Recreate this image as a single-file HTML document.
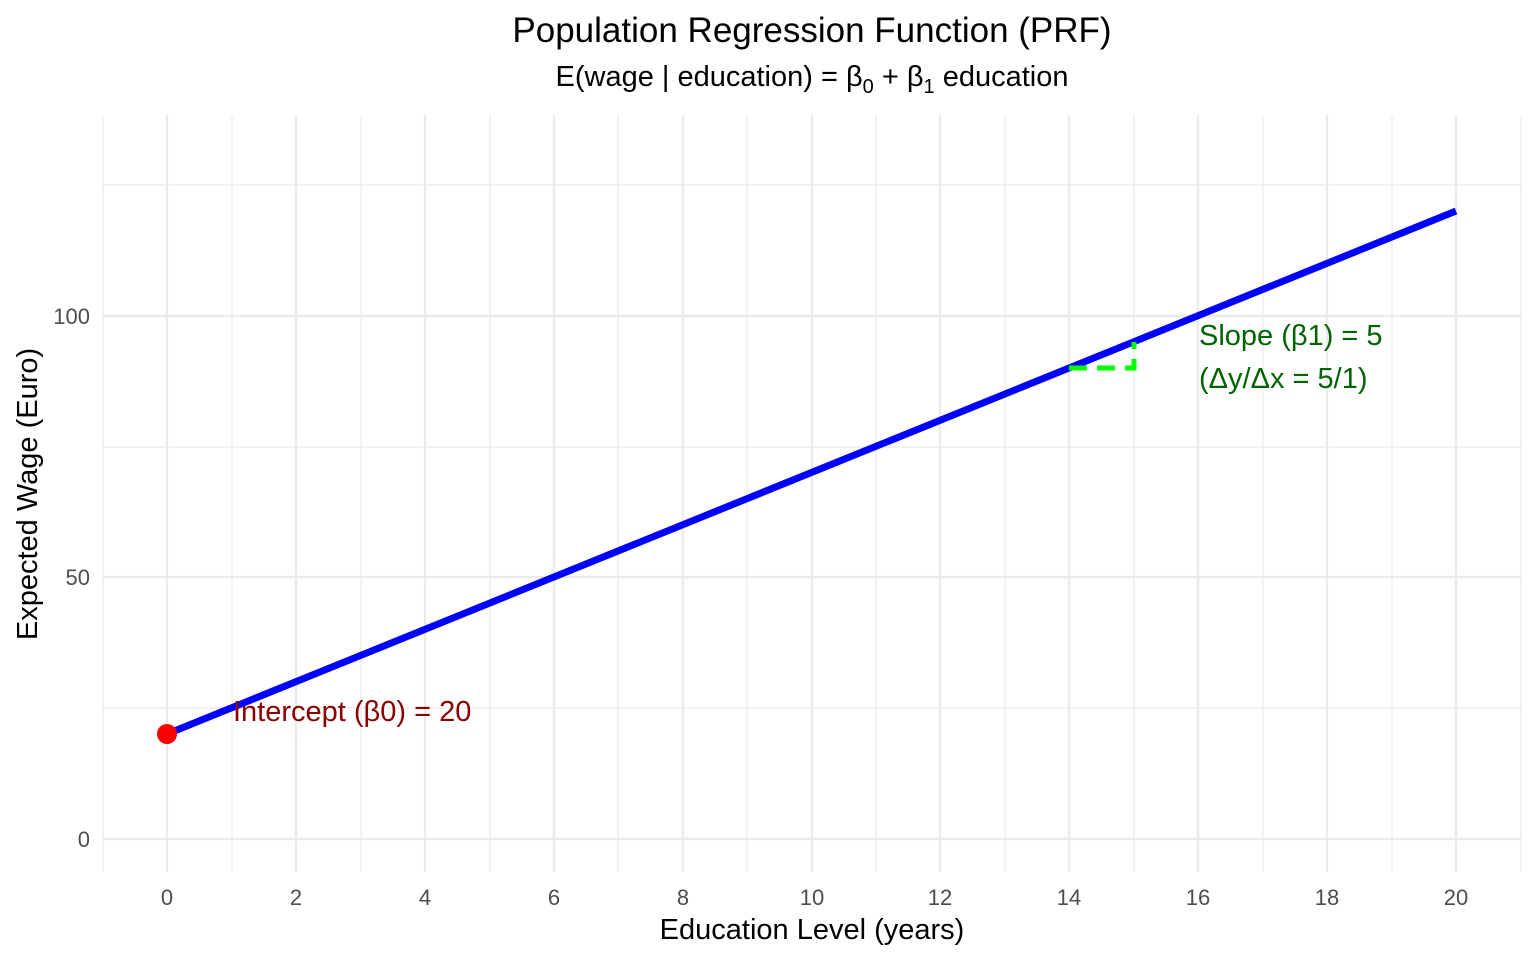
<!DOCTYPE html>
<html><head><meta charset="utf-8"><style>
html,body{margin:0;padding:0;background:#fff;}
svg{display:block;font-family:"Liberation Sans",Arial,sans-serif;}
</style></head><body>
<svg width="1536" height="960" viewBox="0 0 1536 960" xmlns="http://www.w3.org/2000/svg">
<rect width="1536" height="960" fill="#fff"/>
<g stroke="#ebebeb" stroke-width="1.2">
<line x1="103" y1="115" x2="103" y2="872"/>
<line x1="232" y1="115" x2="232" y2="872"/>
<line x1="361" y1="115" x2="361" y2="872"/>
<line x1="490" y1="115" x2="490" y2="872"/>
<line x1="618" y1="115" x2="618" y2="872"/>
<line x1="747" y1="115" x2="747" y2="872"/>
<line x1="876" y1="115" x2="876" y2="872"/>
<line x1="1005" y1="115" x2="1005" y2="872"/>
<line x1="1134" y1="115" x2="1134" y2="872"/>
<line x1="1263" y1="115" x2="1263" y2="872"/>
<line x1="1392" y1="115" x2="1392" y2="872"/>
<line x1="1521" y1="115" x2="1521" y2="872"/>
<line x1="103" y1="185" x2="1521" y2="185"/>
<line x1="103" y1="447" x2="1521" y2="447"/>
<line x1="103" y1="708" x2="1521" y2="708"/>
</g>
<g stroke="#ebebeb" stroke-width="2.4">
<line x1="167" y1="115" x2="167" y2="872"/>
<line x1="296" y1="115" x2="296" y2="872"/>
<line x1="425" y1="115" x2="425" y2="872"/>
<line x1="554" y1="115" x2="554" y2="872"/>
<line x1="683" y1="115" x2="683" y2="872"/>
<line x1="812" y1="115" x2="812" y2="872"/>
<line x1="940" y1="115" x2="940" y2="872"/>
<line x1="1069" y1="115" x2="1069" y2="872"/>
<line x1="1198" y1="115" x2="1198" y2="872"/>
<line x1="1327" y1="115" x2="1327" y2="872"/>
<line x1="1456" y1="115" x2="1456" y2="872"/>
<line x1="103" y1="316" x2="1521" y2="316"/>
<line x1="103" y1="577" x2="1521" y2="577"/>
<line x1="103" y1="839" x2="1521" y2="839"/>
</g>
<line x1="167" y1="734" x2="1456" y2="211" stroke="#0000ff" stroke-width="7"/>
<polyline points="1069,368 1134,368 1134,342" fill="none" stroke="#00ff00" stroke-width="5" stroke-dasharray="18,10"/>
<circle cx="167" cy="734" r="10" fill="#ff0000"/>
<text x="233" y="721" font-size="29" fill="#8b0000">Intercept (β0) = 20</text>
<text x="1199" y="345" font-size="29" fill="#006400">Slope (β1) = 5</text>
<text x="1199" y="388" font-size="29" fill="#006400">(Δy/Δx = 5/1)</text>
<g font-size="22" fill="#4d4d4d" text-anchor="middle">
<text x="167" y="905">0</text><text x="296" y="905">2</text><text x="425" y="905">4</text>
<text x="554" y="905">6</text><text x="683" y="905">8</text><text x="812" y="905">10</text>
<text x="940" y="905">12</text><text x="1069" y="905">14</text><text x="1198" y="905">16</text>
<text x="1327" y="905">18</text><text x="1456" y="905">20</text>
</g>
<g font-size="22" fill="#4d4d4d" text-anchor="end">
<text x="90" y="847">0</text><text x="90" y="585">50</text><text x="90" y="324">100</text>
</g>
<text x="812" y="939" font-size="29" text-anchor="middle" fill="#000">Education Level (years)</text>
<text transform="translate(37,494) rotate(-90)" font-size="29" text-anchor="middle" fill="#000">Expected Wage (Euro)</text>
<text x="812" y="42" font-size="35" text-anchor="middle" fill="#000">Population Regression Function (PRF)</text>
<text x="812" y="86" font-size="29" text-anchor="middle" fill="#000">E(wage | education) = β<tspan font-size="20" dy="7">0</tspan><tspan dy="-7"> + β</tspan><tspan font-size="20" dy="7">1</tspan><tspan dy="-7"> education</tspan></text>
</svg>
</body></html>
